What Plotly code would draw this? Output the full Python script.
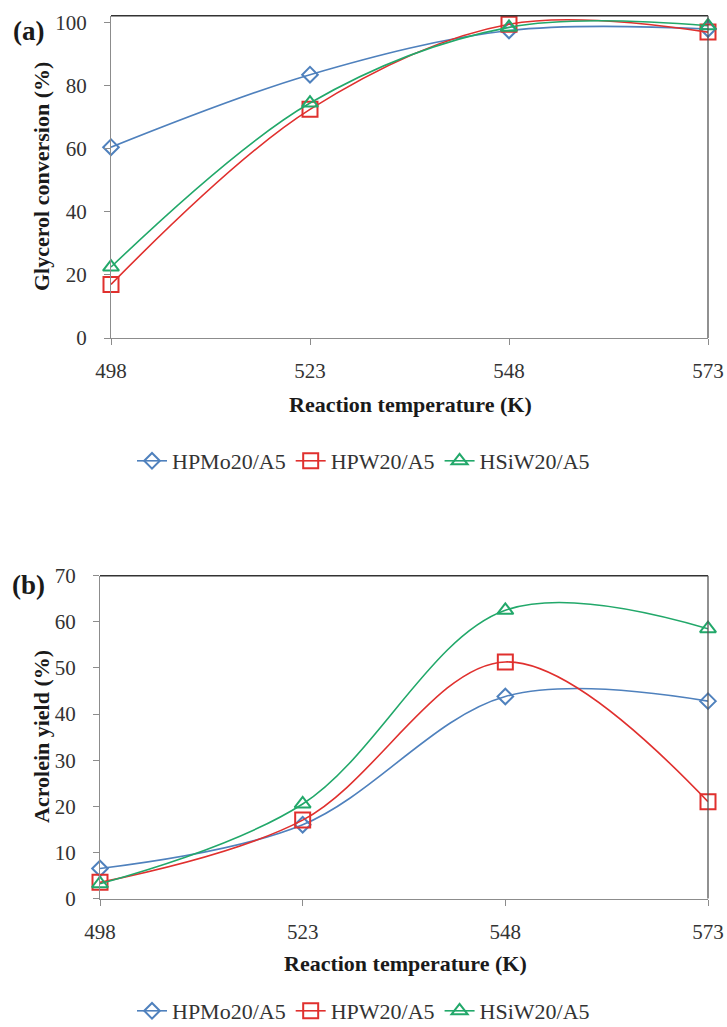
import plotly.graph_objects as go

temps = [498, 523, 548, 573]
series_names = ["HPMo20/A5", "HPW20/A5", "HSiW20/A5"]

conv_hpmo = [60.5, 83.5, 97.5, 98.0]
conv_hpw = [17.0, 72.5, 99.5, 97.0]
conv_hsiw = [22.5, 74.5, 98.5, 99.0]

yield_hpmo = [6.5, 16.0, 43.8, 42.8]
yield_hpw = [3.5, 17.0, 51.3, 21.0]
yield_hsiw = [3.2, 20.5, 62.5, 58.5]

colors = ["#4F81BD", "#E0302E", "#22A86A"]
symbols = ["diamond-open", "square-open", "triangle-up-open"]
msizes = [12, 15, 14]

FONT = "Liberation Serif"
W, H = 727, 1027

fig = go.Figure()

top = [conv_hpmo, conv_hpw, conv_hsiw]
bot = [yield_hpmo, yield_hpw, yield_hsiw]

for i, name in enumerate(series_names):
    fig.add_trace(go.Scatter(
        x=temps, y=top[i], name=name, mode="lines+markers",
        line=dict(color=colors[i], width=1.6, shape="spline", smoothing=1.0),
        marker=dict(symbol=symbols[i], size=msizes[i], color=colors[i],
                    line=dict(color=colors[i], width=2)),
        xaxis="x", yaxis="y", legend="legend", cliponaxis=False))
for i, name in enumerate(series_names):
    fig.add_trace(go.Scatter(
        x=temps, y=bot[i], name=name, mode="lines+markers",
        line=dict(color=colors[i], width=1.6, shape="spline", smoothing=1.0),
        marker=dict(symbol=symbols[i], size=msizes[i], color=colors[i],
                    line=dict(color=colors[i], width=2)),
        xaxis="x2", yaxis="y2", legend="legend2", cliponaxis=False))

def px(x):
    return x / W

def py(y):
    return 1 - y / H

axis_common = dict(showline=True, linecolor="#8C8C8C", linewidth=1.3,
                   ticks="outside", ticklen=6, tickcolor="#8C8C8C",
                   showgrid=False, zeroline=False,
                   tickfont=dict(family=FONT, size=21, color="#333333"))

tick_vals = temps
tick_text = [str(t) for t in temps]

fig.update_layout(
    width=W, height=H,
    margin=dict(l=0, r=0, t=0, b=0, autoexpand=False),
    paper_bgcolor="white", plot_bgcolor="white",
    showlegend=True,
    xaxis=dict(domain=[px(111), px(708)], range=[498, 573], anchor="y",
               tickvals=tick_vals, ticktext=tick_text, ticklabelstandoff=8,
               **axis_common),
    yaxis=dict(domain=[py(338), py(15.7)], range=[0, 102.2], anchor="x",
               tickvals=[0, 20, 40, 60, 80, 100], ticklabelstandoff=13,
               **axis_common),
    xaxis2=dict(domain=[px(100), px(708)], range=[498, 573], anchor="y2",
                tickvals=tick_vals, ticktext=tick_text, ticklabelstandoff=8,
                **axis_common),
    yaxis2=dict(domain=[py(898.5), py(575.7)], range=[0, 70], anchor="x2",
                tickvals=[0, 10, 20, 30, 40, 50, 60, 70], ticklabelstandoff=13,
                **axis_common),
    legend=dict(orientation="h", x=0.5, xanchor="center", y=py(461), yanchor="middle",
                font=dict(family=FONT, size=22, color="#333333"),
                itemwidth=30, bgcolor="rgba(0,0,0,0)"),
    legend2=dict(orientation="h", x=0.5, xanchor="center", y=py(1011), yanchor="middle",
                 font=dict(family=FONT, size=22, color="#333333"),
                 itemwidth=30, bgcolor="rgba(0,0,0,0)"),
)

# frame top/right lines
for xr, yr in [("x", "y"), ("x2", "y2")]:
    fig.add_shape(type="line", xref=f"{xr} domain", yref=f"{yr} domain",
                  x0=0, x1=1, y0=1, y1=1, line=dict(color="#333333", width=1.5))
    fig.add_shape(type="line", xref=f"{xr} domain", yref=f"{yr} domain",
                  x0=1, x1=1, y0=0, y1=1, line=dict(color="#555555", width=1.3))

ann = [
    dict(text="<b>(a)</b>", x=px(29), y=py(31), size=27),
    dict(text="<b>(b)</b>", x=px(29), y=py(585), size=27),
    dict(text="<b>Reaction temperature (K)</b>", x=px(410), y=py(404), size=22),
    dict(text="<b>Reaction temperature (K)</b>", x=px(405), y=py(963), size=22),
]
for a in ann:
    fig.add_annotation(text=a["text"], x=a["x"], y=a["y"], xref="paper", yref="paper",
                       showarrow=False, xanchor="center", yanchor="middle",
                       font=dict(family=FONT, size=a["size"], color="#1a1a1a"))
fig.add_annotation(text="<b>Glycerol conversion (%)</b>", x=px(41), y=py(177),
                   xref="paper", yref="paper", showarrow=False, textangle=-90,
                   xanchor="center", yanchor="middle",
                   font=dict(family=FONT, size=22, color="#1a1a1a"))
fig.add_annotation(text="<b>Acrolein yield (%)</b>", x=px(41), y=py(737),
                   xref="paper", yref="paper", showarrow=False, textangle=-90,
                   xanchor="center", yanchor="middle",
                   font=dict(family=FONT, size=22, color="#1a1a1a"))

fig.write_html("out.html")
